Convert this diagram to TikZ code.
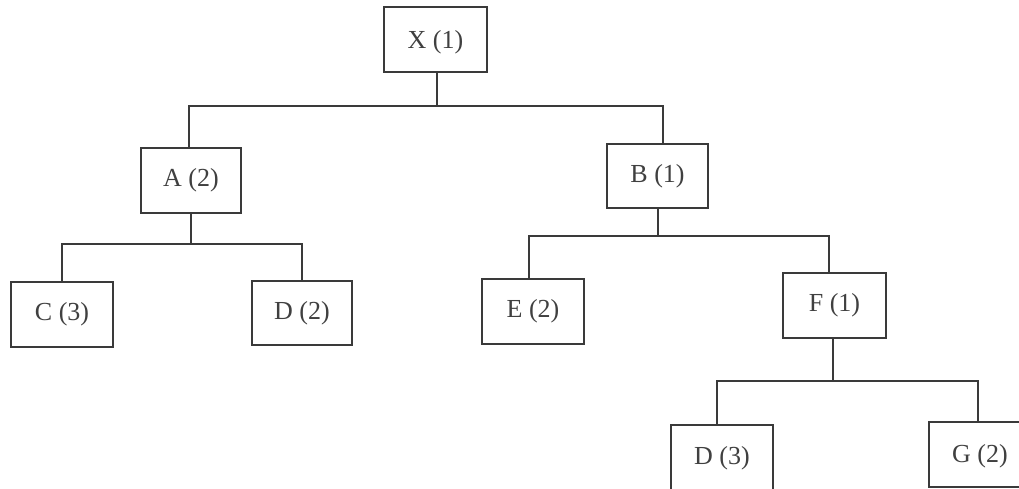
\documentclass[tikz,border=0pt]{standalone}
\usepackage{fontspec}
\setmainfont{Liberation Serif}
\definecolor{ink}{HTML}{3A3A3A}
\definecolor{txt}{HTML}{404040}
\begin{document}
\begin{tikzpicture}[x=1pt,y=-1pt,
  box/.style={draw=ink,line width=1.1pt,rectangle,inner sep=0pt,
    minimum width=102pt,minimum height=65pt,text=txt,
    font=\fontsize{26}{30}\selectfont},
  link/.style={draw=ink,line width=1.2pt}]
\useasboundingbox[clip] (0,0) rectangle (1019,488);
\fill[white] (0,0) rectangle (1019,488);
\node[box,minimum width=103pt,text depth=-1pt] (X) at (435.5,39.5) {X (1)};
\node[box,minimum width=100pt] (A) at (191,180.5) {A (2)};
\node[box,minimum width=101pt,minimum height=64pt] (B) at (657.5,176) {B (1)};
\node[box] (C) at (62,314.5) {C (3)};
\node[box,minimum width=100pt,minimum height=64pt] (D) at (302,313) {D (2)};
\node[box] (E) at (533,311.5) {E (2)};
\node[box,minimum width=103pt] (F) at (834.5,305.5) {F (1)};
\node[box,minimum height=66pt,text depth=6pt] (D3) at (722,458) {D (3)};
\node[box,text depth=3pt] (G) at (980,454.5) {G (2)};
\coordinate (bx) at (437,106);
\coordinate (ba) at (191,244);
\coordinate (bb) at (658,236);
\coordinate (bf) at (833,381);
% X level
\draw[link] ([xshift=1.5pt]X.south) -- (bx);
\draw[link] ([xshift=-2pt]A.north) |- (bx) -| ([xshift=5.5pt]B.north);
% A level
\draw[link] (A.south) -- (ba);
\draw[link] (C.north) |- (ba) -| (D.north);
% B level
\draw[link] ([xshift=0.5pt]B.south) -- (bb);
\draw[link] ([xshift=-4pt]E.north) |- (bb) -| ([xshift=-5.5pt]F.north);
% F level
\draw[link] ([xshift=-1.5pt]F.south) -- (bf);
\draw[link] ([xshift=-5pt]D3.north) |- (bf) -| ([xshift=-2pt]G.north);
\end{tikzpicture}
\end{document}
